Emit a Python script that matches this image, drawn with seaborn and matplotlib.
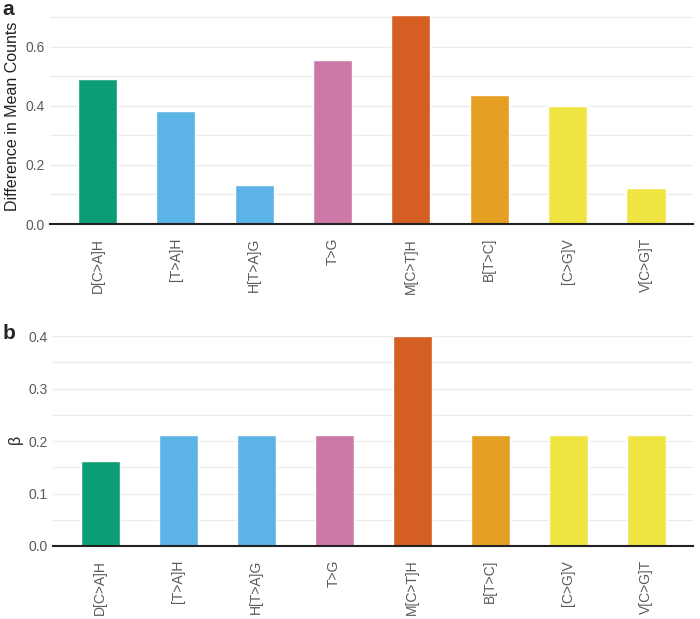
import numpy as np
import pandas as pd
import matplotlib.pyplot as plt
import seaborn as sns
from matplotlib.ticker import MultipleLocator

sns.set_style("white")
plt.rcParams['font.family'] = ['Liberation Sans', 'DejaVu Sans']

# data
labels = ['D[C>A]H', '[T>A]H', 'H[T>A]G', 'T>G', 'M[C>T]H', 'B[T>C]', '[C>G]V', 'V[C>G]T']
diff_counts = [0.490, 0.382, 0.131, 0.553, 0.706, 0.435, 0.399, 0.121]
beta = [0.163, 0.211, 0.211, 0.211, 0.400, 0.211, 0.211, 0.211]
colors = ['#0B9E74', '#5BB3E6', '#5BB3E6', '#CC79A7', '#D55E22', '#E5A023', '#F0E442', '#F0E442']

df = pd.DataFrame({'sig': labels, 'diff': diff_counts, 'beta': beta})

fig = plt.figure(figsize=(7, 6.19), dpi=100)
ax1 = fig.add_axes([0.072, 0.638, 0.918, 0.349])
ax2 = fig.add_axes([0.076, 0.118, 0.914, 0.343])

def style(ax, major, minor, top, ylabel):
    ax.set_xlim(-0.6, 7.6)
    ax.set_ylim(0, top)
    ax.yaxis.set_major_locator(MultipleLocator(major))
    ax.yaxis.set_minor_locator(MultipleLocator(minor))
    ax.grid(axis='y', which='both', color='#ebebeb', linewidth=0.9)
    ax.set_axisbelow(True)
    for s in ['top', 'right', 'left']:
        ax.spines[s].set_visible(False)
    ax.spines['bottom'].set_color('#222222')
    ax.spines['bottom'].set_linewidth(1.5)
    ax.tick_params(axis='both', length=0, labelsize=10, labelcolor='#5a5a5a', pad=4)
    ax.tick_params(axis='x', rotation=90, pad=10)
    ax.set_xlabel('')
    ax.set_ylabel(ylabel, fontsize=11.5, color='#222222')

sns.barplot(data=df, x='sig', y='diff', hue='sig', palette=colors, legend=False,
            width=0.5, saturation=1, ax=ax1)
style(ax1, 0.2, 0.1, 0.73, 'Difference in Mean Counts')

sns.barplot(data=df, x='sig', y='beta', hue='sig', palette=colors, legend=False,
            width=0.5, saturation=1, ax=ax2)
style(ax2, 0.1, 0.05, 0.405, 'β')

fig.text(0.004, 0.975, 'a', fontsize=15, fontweight='bold')
fig.text(0.004, 0.452, 'b', fontsize=15, fontweight='bold')

fig.savefig('out.png', dpi=100)
